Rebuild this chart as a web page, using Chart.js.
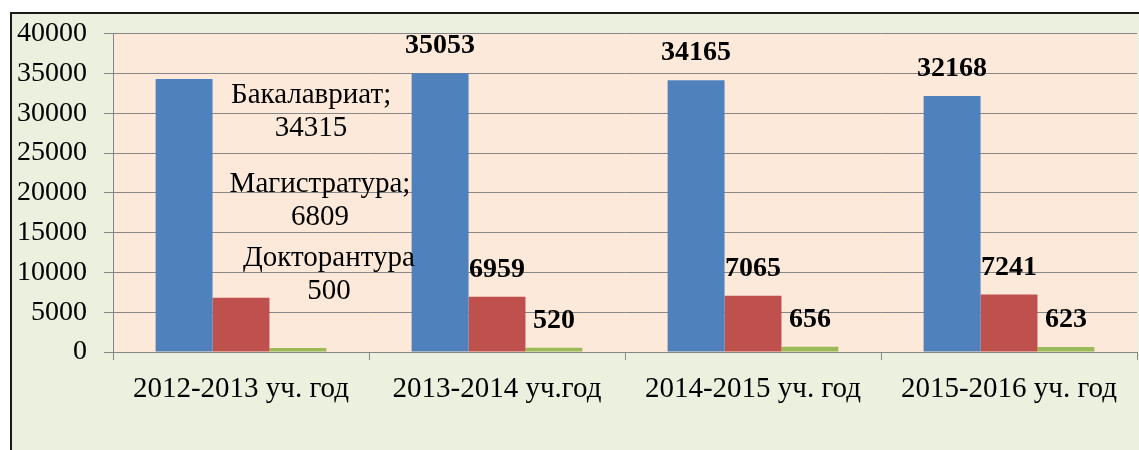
<!DOCTYPE html>
<html>
<head>
<meta charset="utf-8">
<script src="https://cdn.jsdelivr.net/npm/chart.js@4/dist/chart.umd.min.js"></script>
<style>
  html, body { margin: 0; padding: 0; background: #ffffff; overflow: hidden; }
  #frame {
    position: absolute; left: 10px; top: 12px; width: 1200px; height: 500px;
    background: #EBF1DE; border: 2px solid #1a1a1a; box-sizing: border-box;
  }
  #wrap { position: absolute; left: 0; top: 0; width: 1139px; height: 450px; }
</style>
</head>
<body>
<div id="frame"></div>
<div id="wrap"><canvas id="chart" width="1139" height="450"></canvas></div>
<script>
// --- data ---
var years = ['2012-2013 уч. год', '2013-2014 уч.год', '2014-2015 уч. год', '2015-2016 уч. год'];
var seriesNames = ['Бакалавриат', 'Магистратура', 'Докторантура'];
var bakalavriat = [34315, 35053, 34165, 32168];
var magistratura = [6809, 6959, 7065, 7241];
var doktorantura = [500, 520, 656, 623];
var yTicks = [0, 5000, 10000, 15000, 20000, 25000, 30000, 35000, 40000];

var colors = ['#4F81BD', '#C0504D', '#9BBB59'];
var serif = '"Liberation Serif", "Times New Roman", serif';

// peach background of the plot area
var plotBg = {
  id: 'plotBg',
  beforeDraw: function (chart) {
    var a = chart.chartArea, ctx = chart.ctx;
    ctx.save();
    ctx.fillStyle = '#FDE9D9';
    ctx.fillRect(a.left, a.top, a.right - a.left, a.bottom - a.top);
    ctx.restore();
  }
};

// value labels: bold above bars, first group has "name; value" callouts
var firstOffsets = [[127, 16], [79, -113], [31, -90]];
var valueLabels = {
  id: 'valueLabels',
  afterDatasetsDraw: function (chart) {
    var ctx = chart.ctx;
    ctx.save();
    ctx.fillStyle = '#000000';
    ctx.textAlign = 'center';
    ctx.textBaseline = 'middle';
    chart.data.datasets.forEach(function (ds, di) {
      var meta = chart.getDatasetMeta(di);
      meta.data.forEach(function (bar, i) {
        var v = ds.data[i];
        if (i === 0) {
          ctx.font = '29px ' + serif;
          var off = firstOffsets[di];
          var name = seriesNames[di] + (di < 2 ? ';' : '');
          ctx.fillText(name, bar.x + off[0], bar.y + off[1]);
          ctx.fillText(String(v), bar.x + off[0], bar.y + off[1] + 33);
        } else {
          ctx.font = 'bold 28px ' + serif;
          ctx.fillText(String(v), bar.x, bar.y - 27);
        }
      });
    });
    ctx.restore();
  }
};

var ctx = document.getElementById('chart').getContext('2d');
new Chart(ctx, {
  type: 'bar',
  data: {
    labels: years,
    datasets: [
      { label: seriesNames[0], data: bakalavriat, backgroundColor: colors[0] },
      { label: seriesNames[1], data: magistratura, backgroundColor: colors[1] },
      { label: seriesNames[2], data: doktorantura, backgroundColor: colors[2] }
    ]
  },
  options: {
    responsive: false,
    animation: false,
    devicePixelRatio: 1,
    layout: { padding: { top: 32, right: 2, left: 0, bottom: 0 } },
    datasets: { bar: { categoryPercentage: 0.667, barPercentage: 1.0, borderWidth: 0 } },
    plugins: { legend: { display: false }, tooltip: { enabled: false } },
    scales: {
      x: {
        offset: true,
        grid: { offset: true, drawOnChartArea: false, tickLength: 8, color: '#868686' },
        border: { color: '#868686', width: 1 },
        ticks: { color: '#000', font: { family: serif, size: 29 }, padding: 12, maxRotation: 0 },
        afterFit: function (s) { s.height = 98; }
      },
      y: {
        min: 0, max: 40000,
        afterBuildTicks: function (s) { s.ticks = yTicks.map(function (v) { return { value: v }; }); },
        grid: { color: '#868686', tickLength: 9 },
        border: { color: '#868686', width: 1 },
        ticks: {
          color: '#000', font: { family: serif, size: 28 }, padding: 17,
          callback: function (v) { return String(v); }
        },
        afterFit: function (s) { s.width = 113; }
      }
    }
  },
  plugins: [plotBg, valueLabels]
});
</script>
</body>
</html>
